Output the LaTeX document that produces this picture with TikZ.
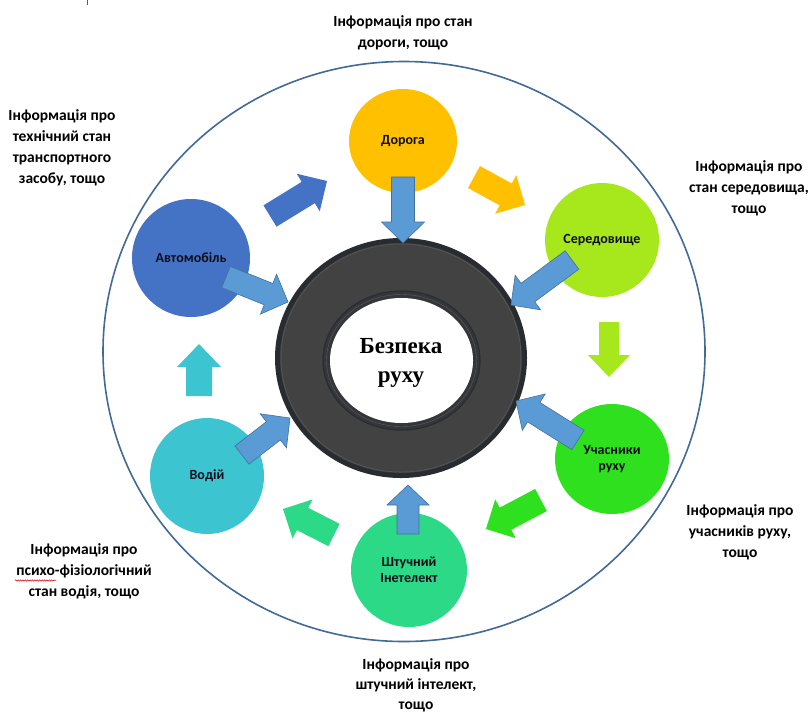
\documentclass[tikz,border=0pt]{standalone}
\usepackage{fontspec}
\setmainfont{Carlito}
\newfontfamily\serifbold{Liberation Serif}
\usetikzlibrary{calc,shapes.geometric,decorations.pathmorphing}
\definecolor{cAuto}{RGB}{68,114,196}
\definecolor{cRoad}{RGB}{255,192,0}
\definecolor{cEnv}{RGB}{166,232,28}
\definecolor{cPart}{RGB}{46,224,30}
\definecolor{cAI}{RGB}{44,217,134}
\definecolor{cDrv}{RGB}{60,196,208}
\definecolor{cIn}{RGB}{91,155,213}
\definecolor{cInB}{RGB}{65,113,156}
\definecolor{cOuter}{RGB}{65,106,150}
\definecolor{tireA}{RGB}{40,43,48}
\definecolor{tireB}{RGB}{66,66,67}
\definecolor{tireC}{RGB}{92,92,94}
\definecolor{tireD}{RGB}{52,54,58}
\definecolor{txtdark}{RGB}{14,14,28}
\newcommand\blockarrow[6]{%
  \coordinate (#1-n) at ($(#2)!#5pt!(#1)$);
  \path[#6] ($(#1)!#3pt!90:(#2)$) -- ($(#1-n)!#3pt!-90:(#1)$) -- ($(#1-n)!#4pt!-90:(#1)$) -- (#2)
    -- ($(#1-n)!#4pt!90:(#1)$) -- ($(#1-n)!#3pt!90:(#1)$) -- ($(#1)!#3pt!-90:(#2)$) -- cycle;}
\tikzset{
  blob/.style={ellipse, inner sep=0pt, font=\fontsize{14}{16.5}\selectfont\bfseries, text=txtdark, align=center},
  info/.style={font=\fontsize{15.5}{21}\selectfont\bfseries, align=center, text=black},
  inarrow/.style={fill=cIn, draw=cInB, line width=0.6pt, line join=miter},
}
\begin{document}
\begin{tikzpicture}[x=1pt,y=-1pt]
\useasboundingbox (0,0) rectangle (810,715);
\fill[white] (0,0) rectangle (810,715);
% tiny tick
\draw[gray!70!black, line width=0.6pt] (87,0) -- (87,5);
% outer circle
\draw[cOuter, line width=1.6pt] (404,351.5) ellipse [x radius=301, y radius=290];
% tyre
\fill[tireA] (401,358) ellipse [x radius=126, y radius=120];
\fill[tireB] (401,358) ellipse [x radius=121, y radius=115];
\draw[tireC, line width=0.5pt] (401,358) ellipse [x radius=120, y radius=114];
\fill[tireD] (401.5,360.5) ellipse [x radius=79, y radius=70];
\draw[tireA, line width=1pt] (401.5,360.5) ellipse [x radius=78.5, y radius=69.5];
\draw[tireC, line width=0.4pt] (401.5,360.5) ellipse [x radius=75, y radius=66];
\node[ellipse, fill=white, minimum width=143pt, minimum height=125pt, inner sep=0pt] (hole) at (401.5,360.5) {};
\node[font=\serifbold\bfseries\fontsize{23}{29}\selectfont, align=center] (safety) at (401,363) {Безпека\\руху};
% circles
\node[blob, fill=cRoad, minimum width=108pt, minimum height=104pt] (road) at (403,141) {Дорога};
\node[blob, fill=cEnv, minimum width=114pt, minimum height=114pt] (env) at (602,240) {Середовище};
\node[blob, fill=cAuto, minimum width=118pt, minimum height=118pt] (auto) at (191,258) {Автомобіль};
\node[blob, fill=cDrv, minimum width=114pt, minimum height=116pt] (drv) at (207,476) {Водій};
\node[blob, fill=cAI, minimum width=116pt, minimum height=114pt] (ai) at (409,570) {Штучний\\Інетелект};
\node[blob, fill=cPart, minimum width=114pt, minimum height=110pt] (part) at (612,459) {Учасники\\руху};
% inward blue arrows
\coordinate (t1) at (403,177); \coordinate (h1) at (403,243);
\coordinate (t2) at (226,277); \coordinate (h2) at (288,302);
\coordinate (t3) at (572,260); \coordinate (h3) at (511,305);
\coordinate (t4) at (578,440); \coordinate (h4) at (516,401);
\coordinate (t5) at (408,534); \coordinate (h5) at (408,485);
\coordinate (t6) at (242,455); \coordinate (h6) at (290,418);
\blockarrow{t1}{h1}{11.5}{21.5}{21}{inarrow}
\blockarrow{t2}{h2}{11.5}{21.5}{21}{inarrow}
\blockarrow{t3}{h3}{11.5}{21.5}{21}{inarrow}
\blockarrow{t4}{h4}{11.5}{21.5}{21}{inarrow}
\blockarrow{t5}{h5}{11}{21}{20}{inarrow}
\blockarrow{t6}{h6}{11.5}{21.5}{21}{inarrow}
% cycle arrows
\coordinate (c1) at (270,216); \coordinate (d1) at (327,181);
\coordinate (c2) at (474,177); \coordinate (d2) at (525,205);
\coordinate (c3) at (609,322); \coordinate (d3) at (609,377);
\coordinate (c4) at (541,500); \coordinate (d4) at (486,529);
\coordinate (c5) at (334,535); \coordinate (d5) at (283,509);
\coordinate (c6) at (199,396); \coordinate (d6) at (199,344);
\blockarrow{c1}{d1}{12.5}{22}{22}{fill=cAuto}
\blockarrow{c2}{d2}{12.5}{22}{22}{fill=cRoad}
\blockarrow{c3}{d3}{10}{21}{22}{fill=cEnv}
\blockarrow{c4}{d4}{12.5}{22}{22}{fill=cPart}
\blockarrow{c5}{d5}{12.5}{22}{22}{fill=cAI}
\blockarrow{c6}{d6}{13}{22}{23}{fill=cDrv}
% information labels
\node[info] (iroad) at (403,33) {Інформація про стан\\дороги, тощо};
\node[info] (iauto) at (62,148) {Інформація про\\технічний стан\\транспортного\\засобу, тощо};
\node[info] (ienv) at (749,188) {Інформація про\\стан середовища,\\тощо};
\node[info] (ipart) at (740,532) {Інформація про\\учасників руху,\\тощо};
\node[info] (idrv) at (84,571) {Інформація про\\психо-фізіологічний\\стан водія, тощо};
\node[info, font=\fontsize{15.5}{20}\selectfont\bfseries] (iai) at (416,685) {Інформація про\\штучний інтелект,\\тощо};
\coordinate (sq1) at (15,580.5); \coordinate (sq2) at (56,580.5);
\draw[red!85!black, line width=0.5pt, decorate, decoration={snake, amplitude=0.7pt, segment length=2.4pt}] (sq1) -- (sq2);
\end{tikzpicture}
\end{document}
